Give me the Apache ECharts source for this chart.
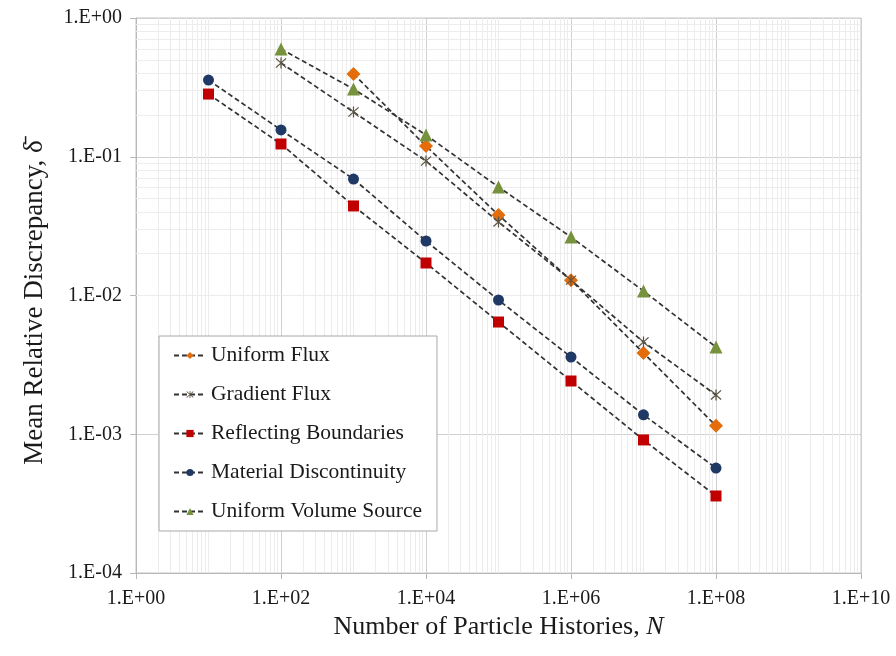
<!DOCTYPE html>
<html>
<head>
<meta charset="utf-8">
<script src="https://cdn.jsdelivr.net/npm/echarts@6/dist/echarts.min.js"></script>
<style>
  html, body { margin: 0; padding: 0; background: #ffffff; }
  #chart { width: 896px; height: 656px; }
</style>
</head>
<body>
<div id="chart"></div>
<script>
// Number of particle histories for each run
const histories = [1e1, 1e2, 1e3, 1e4, 1e5, 1e6, 1e7, 1e8];

// Mean relative discrepancy per test problem (null = not run)
const uniformFlux        = [null, null, 0.395, 0.1195, 0.038, 0.0129, 0.00385, 0.00115];
const gradientFlux       = [null, 0.474, 0.210, 0.0932, 0.0339, 0.0129, 0.00462, 0.00192];
const reflectingBounds   = [0.283, 0.1236, 0.0442, 0.01715, 0.00644, 0.00242, 0.00091, 0.000359];
const materialDiscont    = [0.357, 0.156, 0.0691, 0.0247, 0.00928, 0.0036, 0.00138, 0.000571];
const uniformVolumeSrc   = [null, 0.598, 0.308, 0.1435, 0.0605, 0.0264, 0.01077, 0.00425];

const seriesNames = [
  'Uniform Flux',
  'Gradient Flux',
  'Reflecting Boundaries',
  'Material Discontinuity',
  'Uniform Volume Source'
];

// Axis decades
const xTicks = [1e0, 1e2, 1e4, 1e6, 1e8, 1e10];
const yTicks = [1e-4, 1e-3, 1e-2, 1e-1, 1e0];

const FONT = '"Liberation Serif", "Times New Roman", serif';

// Asterisk marker built from three thin bars
const starPath = 'path://M9,0 L11,0 L11,20 L9,20 Z M1,2.4 L2.4,1 L19,17.6 L17.6,19 Z M17.6,1 L19,2.4 L2.4,19 L1,17.6 Z';

function sciLabel(v) {
  const e = Math.round(Math.log10(v));
  const s = e < 0 ? '-' : '+';
  const a = Math.abs(e);
  return '1.E' + s + (a < 10 ? '0' + a : '' + a);
}

function pairs(values) {
  const out = [];
  values.forEach((v, i) => { if (v !== null) out.push([histories[i], v]); });
  return out;
}

// Light minor grid lines: 1..9 within each decade, skipping the labelled decades
const minorLines = [];
for (let e = 0; e < 10; e++) {
  for (let m = (e % 2 === 1 ? 1 : 2); m <= 9; m++) minorLines.push({ xAxis: m * Math.pow(10, e) });
}
for (let e = -4; e < 0; e++) {
  for (let m = 2; m <= 9; m++) minorLines.push({ yAxis: m * Math.pow(10, e) });
}

const lineStyle = { color: '#333333', width: 1.7, type: [5, 3] };

function makeSeries(name, values, symbol, size, color) {
  return {
    name: name,
    type: 'line',
    data: pairs(values),
    symbol: symbol,
    symbolSize: size,
    showSymbol: true,
    itemStyle: { color: color, opacity: 1 },
    lineStyle: lineStyle,
    z: 5,
    animation: false
  };
}

const chart = echarts.init(document.getElementById('chart'), null, { renderer: 'canvas' });

chart.setOption({
  backgroundColor: '#ffffff',
  animation: false,
  grid: {
    left: 136, right: 35, top: 18, bottom: 83,
    show: true, borderColor: '#c4c4c4', borderWidth: 1, backgroundColor: 'transparent'
  },
  legend: {
    orient: 'vertical',
    left: 159, top: 336,
    z: 20,
    padding: [8, 15, 8, 14],
    itemGap: 16,
    itemWidth: 32, itemHeight: 9,
    backgroundColor: '#ffffff',
    borderColor: '#a8a8a8', borderWidth: 1,
    borderRadius: 0,
    data: seriesNames,
    textStyle: { fontFamily: FONT, fontSize: 21.5, color: '#1a1a1a', lineHeight: 23 }
  },
  xAxis: {
    type: 'log', logBase: 10,
    min: xTicks[0], max: xTicks[xTicks.length - 1], interval: 2,
    name: '{a|Number of Particle Histories, }{i|N}',
    nameLocation: 'middle', nameGap: 37,
    nameTextStyle: {
      rich: {
        a: { fontFamily: FONT, fontSize: 26, color: '#1a1a1a' },
        i: { fontFamily: FONT, fontSize: 26, color: '#1a1a1a', fontStyle: 'italic' }
      }
    },
    axisLine: { show: true, lineStyle: { color: '#b8b8b8', width: 1 } },
    axisTick: { show: true, length: 6, lineStyle: { color: '#b8b8b8' } },
    axisLabel: { formatter: sciLabel, fontFamily: FONT, fontSize: 20, color: '#1a1a1a', margin: 16 },
    splitLine: { show: true, lineStyle: { color: '#d0d0d0', width: 1 } }
  },
  yAxis: {
    type: 'log', logBase: 10,
    min: yTicks[0], max: yTicks[yTicks.length - 1], interval: 1,
    name: 'Mean Relative Discrepancy, δ\u0304',
    nameLocation: 'middle', nameGap: 88,
    nameTextStyle: { fontFamily: FONT, fontSize: 27, color: '#1a1a1a', padding: [0, 14, 0, 0] },
    axisLine: { show: true, lineStyle: { color: '#b8b8b8', width: 1 } },
    axisTick: { show: true, length: 6, lineStyle: { color: '#b8b8b8' } },
    axisLabel: { formatter: sciLabel, fontFamily: FONT, fontSize: 20, color: '#1a1a1a', margin: 14 },
    splitLine: { show: true, lineStyle: { color: '#d0d0d0', width: 1 } }
  },
  series: [
    {
      name: '__minorGrid',
      type: 'line',
      data: [],
      silent: true,
      z: 1,
      markLine: {
        silent: true,
        symbol: ['none', 'none'],
        label: { show: false },
        lineStyle: { color: '#ececec', width: 1, type: 'solid' },
        data: minorLines,
        animation: false
      }
    },
    makeSeries(seriesNames[0], uniformFlux, 'diamond', 14, '#E46C0A'),
    makeSeries(seriesNames[1], gradientFlux, starPath, 11, '#5A5440'),
    makeSeries(seriesNames[2], reflectingBounds, 'rect', 11, '#C00000'),
    makeSeries(seriesNames[3], materialDiscont, 'circle', 11, '#1F3864'),
    makeSeries(seriesNames[4], uniformVolumeSrc, 'triangle', 13, '#76923C')
  ]
});
</script>
</body>
</html>
